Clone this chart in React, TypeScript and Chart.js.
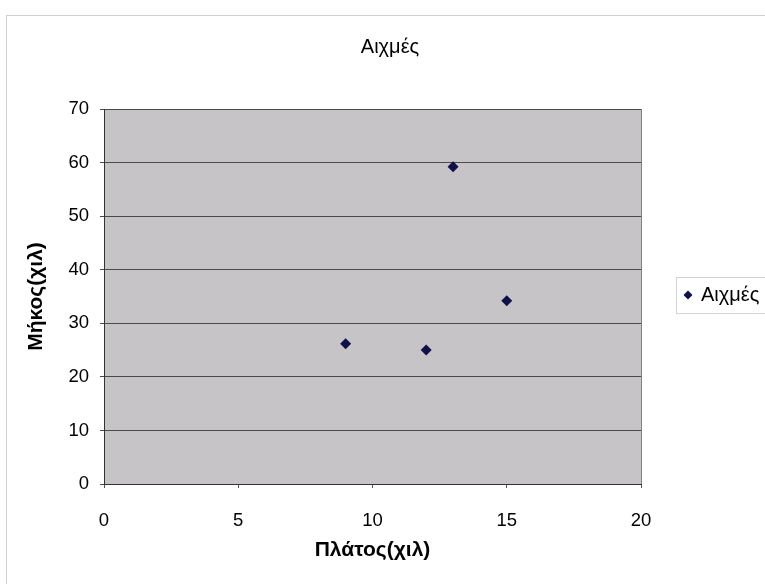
import React, { useEffect, useRef } from "react";
import { Chart, registerables } from "chart.js";

Chart.register(...registerables);

const chartTitle = "Αιχμές";
const seriesName = "Αιχμές";
const xTitle = "Πλάτος(χιλ)";
const yTitle = "Μήκος(χιλ)";
const widths = [9, 12, 13, 15];
const lengths = [26.2, 25, 59.2, 34.2];
const xMin = 0, xMax = 20, xStep = 5;
const yMin = 0, yMax = 70, yStep = 10;

const FONT = "'Liberation Sans', Arial, sans-serif";
const POINT_COLOR = "#11114a";

const decorPlugin = {
  id: "decor",
  beforeDraw(chart: any) {
    const { ctx, chartArea: a, width, height } = chart;
    ctx.save();
    ctx.fillStyle = "#ffffff";
    ctx.fillRect(0, 0, width, height);
    ctx.strokeStyle = "#d0d0d0";
    ctx.lineWidth = 1;
    ctx.strokeRect(6.5, 15.5, width + 20, height + 20);
    ctx.fillStyle = "#c6c4c7";
    ctx.fillRect(a.left, a.top, a.right - a.left, a.bottom - a.top);
    // title
    ctx.fillStyle = "#000";
    ctx.font = `20px ${FONT}`;
    ctx.textAlign = "center";
    ctx.textBaseline = "middle";
    ctx.fillText(chartTitle, 390, 47);
    ctx.restore();
  },
  afterDraw(chart: any) {
    const { ctx, chartArea: a } = chart;
    ctx.save();
    ctx.strokeStyle = "#808080";
    ctx.lineWidth = 1;
    ctx.beginPath();
    ctx.moveTo(a.right + 0.5, a.top);
    ctx.lineTo(a.right + 0.5, a.bottom);
    ctx.stroke();
    // legend
    const lx = 676, ly = 277, lh = 36;
    ctx.fillStyle = "#ffffff";
    ctx.fillRect(lx, ly, 120, lh);
    ctx.strokeStyle = "#d4d4d4";
    ctx.strokeRect(lx + 0.5, ly + 0.5, 120, lh);
    const cy = ly + lh / 2;
    const mx = 688;
    ctx.fillStyle = POINT_COLOR;
    ctx.beginPath();
    ctx.moveTo(mx, cy - 4.5);
    ctx.lineTo(mx + 4.5, cy);
    ctx.lineTo(mx, cy + 4.5);
    ctx.lineTo(mx - 4.5, cy);
    ctx.closePath();
    ctx.fill();
    ctx.fillStyle = "#000";
    ctx.font = `20px ${FONT}`;
    ctx.textBaseline = "middle";
    ctx.textAlign = "left";
    ctx.fillText(chart.data.datasets[0].label, 701, cy);
    ctx.restore();
  },
};

export default function App() {
  const ref = useRef<HTMLCanvasElement>(null);
  useEffect(() => {
    if (!ref.current) return;
    const chart = new Chart(ref.current, {
      type: "scatter",
      data: {
        datasets: [
          {
            label: seriesName,
            data: widths.map((x, i) => ({ x, y: lengths[i] })),
            pointStyle: "rectRot",
            pointRadius: 5.5,
            backgroundColor: POINT_COLOR,
            borderColor: POINT_COLOR,
            borderWidth: 0,
          },
        ],
      },
      options: {
        animation: false,
        responsive: false,
        maintainAspectRatio: false,
        layout: { padding: { left: 0, right: 124, top: 109, bottom: 0 } },
        plugins: {
          legend: { display: false },
          tooltip: { enabled: false },
          title: { display: false },
        },
        scales: {
          x: {
            type: "linear",
            min: xMin,
            max: xMax,
            afterFit: (s: any) => { s.height = 100; },
            ticks: {
              stepSize: xStep,
              color: "#000",
              font: { family: FONT, size: 18.5 },
              padding: 22,
              maxRotation: 0,
            },
            grid: { display: true, drawOnChartArea: false, tickLength: 4, color: "#555" },
            border: { display: true, color: "#333", width: 1 },
            title: {
              display: true,
              text: xTitle,
              color: "#000",
              font: { family: FONT, size: 21, weight: "bold" },
              padding: { top: 0, bottom: 21 },
            },
          },
          y: {
            type: "linear",
            min: yMin,
            max: yMax,
            afterFit: (s: any) => { s.width = 104; },
            ticks: {
              stepSize: yStep,
              color: "#000",
              font: { family: FONT, size: 18.5 },
              padding: 11,
            },
            grid: { display: true, tickLength: 4, color: "#4a4a4a" },
            border: { display: true, color: "#333", width: 1 },
            title: {
              display: true,
              text: yTitle,
              color: "#000",
              font: { family: FONT, size: 21, weight: "bold" },
              padding: { top: 24, bottom: 0 },
            },
          },
        },
      },
      plugins: [decorPlugin],
    });
    return () => chart.destroy();
  }, []);
  return (
    <div style={{ position: "absolute", left: 0, top: 0, width: 765, height: 584 }}>
      <canvas ref={ref} width={765} height={584} />
    </div>
  );
}
